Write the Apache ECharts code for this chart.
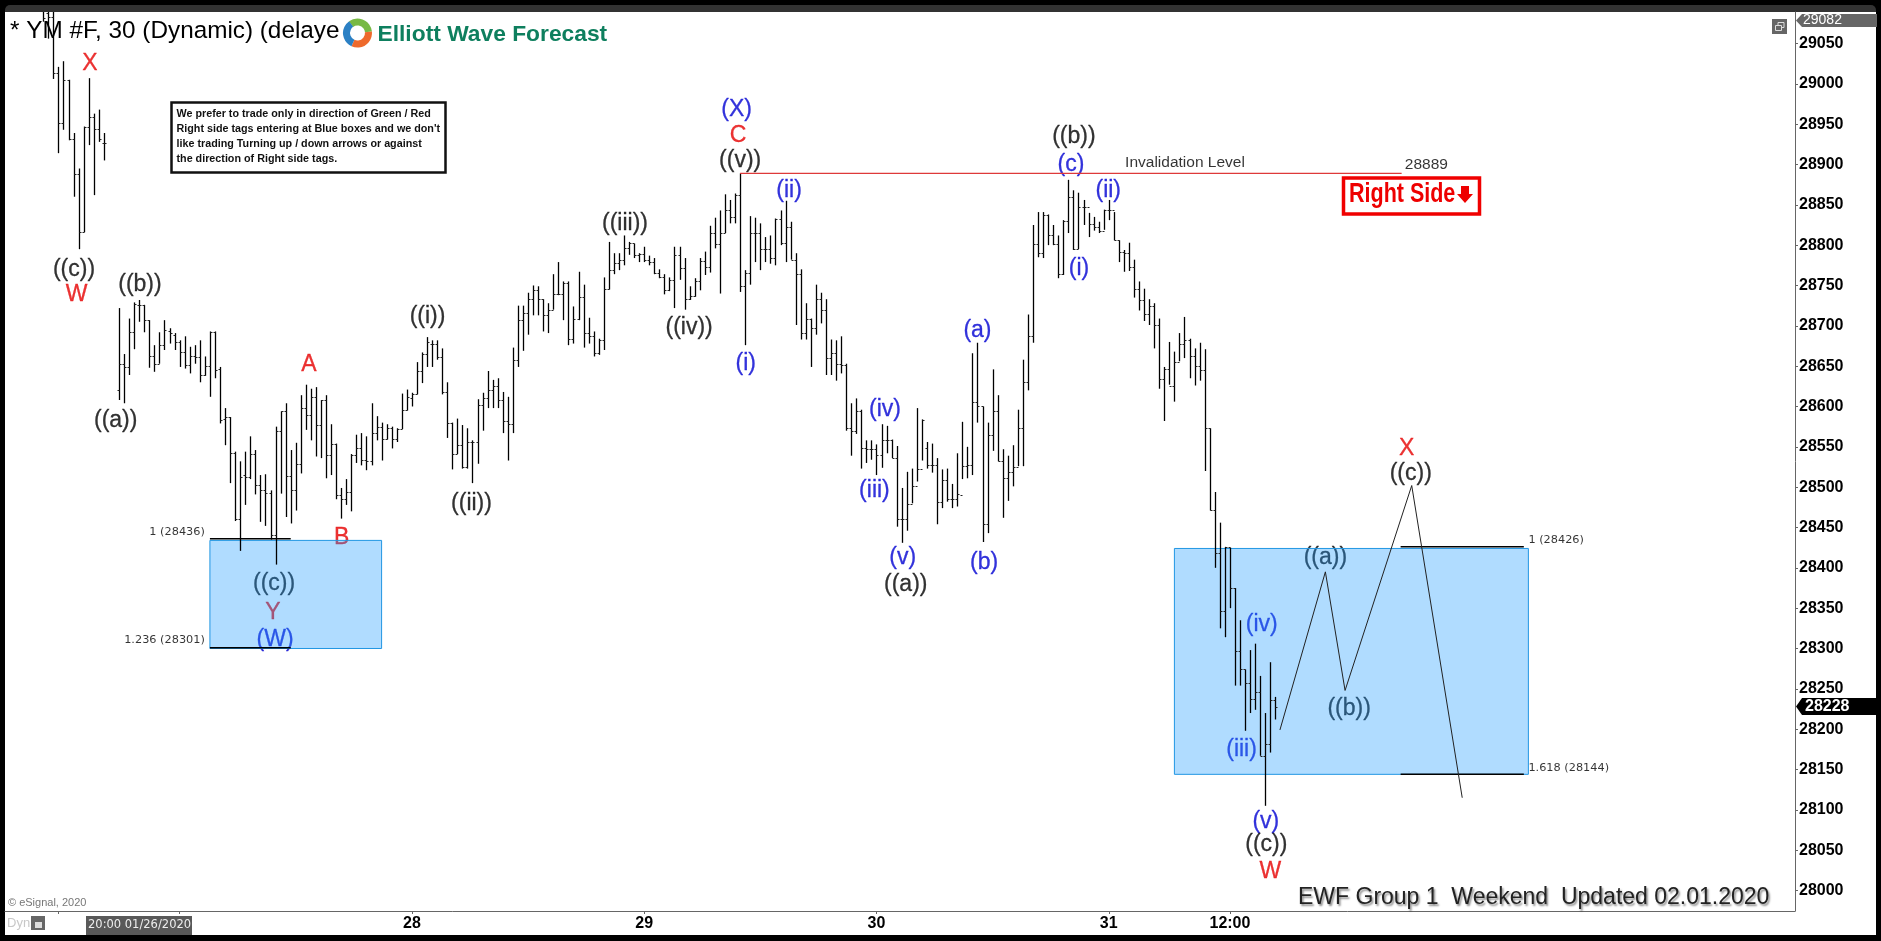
<!DOCTYPE html>
<html lang="en">
<head>
<meta charset="UTF-8">
<title>YM #F, 30</title>
<style>
    html, body { margin: 0; padding: 0; background: #000; }
    #chart { width: 1881px; height: 941px; }
</style>
<script src="https://cdn.jsdelivr.net/npm/echarts@6/dist/echarts.min.js"></script>
</head>
<body>
<div id="chart"></div>
<script>
// 30 minute bars, first bar is index 0
var highs = [
    29110,29105,29100,29021,29028,29005,28939,28895,28947,29007,
    28963,28968,28939,null,null,28722,28665,28709,28729,28732,
    28726,28707,28676,28692,28707,28697,28691,28682,28687,28674,
    28676,28682,28662,28693,28693,28649,28598,28587,28544,28532,
    28544,28563,28546,28515,28516,28496,28575,28594,28604,28546,
    28555,28614,28627,28622,28624,28608,28614,28578,28554,28499,
    28510,28541,28565,28567,28563,28604,28588,28580,28578,28575,
    28573,28616,28621,28617,28655,28667,28686,28682,28682,28672,
    28630,28580,28585,28577,28573,28558,28609,28617,28644,28633,
    28635,28618,28612,28673,28725,28725,28741,28750,28749,28733,
    28728,28764,28779,28755,28755,28724,28767,28751,28710,28693,
    28684,28760,28804,28790,28790,28812,28804,28802,28790,28798,
    28787,28784,28770,28764,28760,28798,28798,28784,28749,28759,
    28784,28792,28824,28834,28843,28863,28856,28864,28889,28769,
    28836,28834,28827,28810,28812,28833,28843,28855,28829,28790,
    28770,28728,28709,28751,28741,28733,28683,28682,28687,28653,
    28604,28610,28596,28558,28558,28553,28578,28576,28559,28551,
    28499,28519,28523,28598,28584,28556,28554,28536,28522,28523,
    28504,28542,28581,28550,28666,28679,28600,28580,28646,28614,
    28547,28539,28552,28596,28658,28714,28825,28841,28841,28838,
    28825,28812,28831,28881,28868,28865,28856,28840,28835,28829,
    28844,28856,28841,28806,28794,28803,28782,28755,28746,28733,
    28728,28709,28649,28680,28668,28691,28711,28684,28672,28679,
    28671,28573,28494,28456,28426,28425,28375,28335,28274,28298,
    28306,28266,28220,28283,28240
];
var lows = [
    29077,29056,29006,28914,28943,28930,28860,28795,28816,28924,
    28862,28928,28905,null,null,28608,28604,28639,28671,28705,
    28692,28648,28643,28653,28670,28678,28670,28649,28647,28641,
    28653,28630,28638,28612,28635,28579,28552,28505,28458,28421,
    28478,28510,28491,28457,28452,28435,28404,28492,28463,28455,
    28471,28517,28571,28558,28538,28536,28511,28515,28485,28461,
    28478,28470,28530,28527,28521,28527,28558,28533,28559,28548,
    28556,28572,28595,28600,28615,28629,28649,28649,28658,28615,
    28561,28522,28541,28523,28523,28505,28529,28570,28598,28598,
    28598,28567,28533,28567,28649,28669,28689,28713,28713,28693,
    28691,28720,28738,28707,28676,28678,28707,28673,28678,28662,
    28664,28670,28745,28764,28769,28775,28788,28784,28779,28779,
    28775,28764,28759,28739,28743,28722,28757,28720,28732,28736,
    28744,28763,28766,28796,28740,28815,28827,28827,28742,28676,
    28751,28779,28769,28779,28777,28775,28800,28779,28782,28701,
    28683,28683,28649,28689,28703,28639,28639,28632,28641,28570,
    28539,28566,28523,28530,28534,28515,28524,28542,28536,28451,
    28431,28446,28480,28507,28533,28523,28518,28454,28474,28482,
    28474,28476,28510,28511,28515,28580,28432,28443,28545,28532,
    28462,28483,28501,28526,28526,28620,28679,28785,28784,28800,
    28800,28759,28763,28815,28794,28795,28825,28810,28818,28815,
    28819,28831,28806,28779,28767,28768,28735,28719,28706,28701,
    28672,28622,28582,28627,28606,28656,28660,28635,28626,28632,
    28520,28471,28400,28325,28314,28350,28254,28254,28198,28220,
    28224,28167,28105,28171,28212
];
var opens = [
    29100,29088,29083,29014,28951,29005,28932,28888,28816,28946,
    28959,28944,28927,null,null,28621,28653,28649,28692,28726,
    28726,28707,28662,28653,28676,28693,28689,28680,28668,28651,
    28663,28661,28639,28650,28692,28646,28584,28587,28542,28461,
    28515,28513,28541,28503,28497,28493,28441,28570,28594,28514,
    28497,28529,28598,28589,28612,28577,28608,28540,28553,28490,
    28485,28494,28540,28548,28534,28532,28567,28574,28560,28573,
    28560,28572,28596,28611,28616,28644,28665,28678,28678,28661,
    28618,28580,28541,28552,28525,28556,28556,28602,28610,28620,
    28625,28608,28582,28578,28657,28707,28716,28733,28744,28733,
    28713,28720,28740,28739,28753,28684,28709,28736,28691,28687,
    28666,28682,28746,28769,28778,28781,28796,28803,28788,28789,
    28782,28779,28765,28760,28744,28757,28788,28772,28733,28737,
    28755,28780,28773,28815,28802,28815,28843,28835,28862,28749,
    28765,28815,28815,28795,28795,28784,28832,28803,28822,28782,
    28764,28691,28709,28697,28733,28719,28660,28666,28653,28651,
    28573,28569,28594,28548,28547,28547,28540,28558,28559,28536,
    28460,28460,28479,28501,28522,28549,28527,28527,28482,28509,
    28485,28485,28490,28526,28527,28606,28601,28454,28565,28595,
    28533,28511,28519,28525,28573,28630,28687,28801,28790,28837,
    28812,28801,28764,28830,28860,28795,28847,28847,28826,28822,
    28818,28844,28843,28806,28791,28790,28773,28746,28732,28715,
    28724,28701,28634,28647,28625,28655,28677,28683,28662,28650,
    28645,28573,28472,28418,28346,28426,28375,28297,28274,28257,
    28237,28246,28167,28182,28236
];
var closes = [
    29082,29083,29013,28951,29005,28932,28888,28816,28946,28959,
    28944,28932,28927,null,null,28653,28649,28692,28727,28726,
    28707,28662,28653,28676,28695,28691,28680,28668,28651,28663,
    28661,28639,28650,28692,28645,28583,28587,28542,28461,28513,
    28512,28541,28503,28497,28493,28441,28570,28594,28514,28497,
    28529,28598,28589,28612,28577,28608,28540,28553,28490,28485,
    28494,28540,28548,28534,28532,28567,28574,28560,28573,28560,
    28572,28596,28612,28616,28644,28665,28680,28678,28661,28618,
    28580,28541,28552,28525,28556,28556,28602,28610,28620,28625,
    28608,28582,28578,28657,28707,28716,28733,28744,28733,28713,
    28720,28740,28739,28753,28684,28709,28736,28691,28687,28666,
    28682,28746,28769,28778,28781,28796,28803,28788,28789,28782,
    28779,28765,28760,28744,28757,28788,28772,28733,28737,28755,
    28780,28773,28815,28802,28815,28843,28835,28862,28749,28765,
    28815,28815,28795,28795,28784,28832,28803,28822,28782,28764,
    28691,28709,28697,28733,28719,28660,28666,28653,28651,28573,
    28569,28594,28548,28547,28547,28540,28558,28559,28536,28460,
    28460,28479,28501,28522,28583,28527,28527,28482,28509,28485,
    28485,28492,28526,28527,28606,28601,28454,28565,28595,28533,
    28511,28519,28525,28573,28630,28687,28801,28790,28837,28812,
    28801,28764,28830,28860,28795,28847,28847,28826,28822,28818,
    28844,28843,28806,28791,28790,28773,28746,28732,28715,28724,
    28701,28634,28647,28625,28655,28677,28683,28662,28650,28645,
    28573,28472,28418,28346,28426,28375,28297,28274,28257,28237,
    28246,28167,28182,28236,28227
];

var yTicks = [28000,28050,28100,28150,28200,28250,28300,28350,28400,28450,28500,28550,28600,28650,
    28700,28750,28800,28850,28900,28950,29000,29050];
var xTicks = [3, 27, 73, 119, 165, 211, 235];
var xTickLabels = ["", "", "28", "29", "30", "31", "12:00"];

// [text, bar index, price, colour]
var waveLabels = [
    ["X", 9.25, 29027, "red"], ["((c))", 6.08, 28771, "black"], ["W", 6.61, 28741, "red"],
    ["((b))", 19.15, 28753, "black"], ["((a))", 14.34, 28584, "black"], ["A", 52.6, 28654, "red"],
    ["((i))", 76.1, 28713, "black"], ["B", 59.1, 28439, "red"], ["((c))", 45.7, 28382, "black"],
    ["Y", 45.5, 28346, "red"], ["(W)", 45.9, 28313, "blue"], ["((ii))", 84.8, 28482, "black"],
    ["((iii))", 115.2, 28828, "black"], ["((iv))", 127.9, 28699, "black"], ["(X)", 137.3, 28970, "blue"],
    ["C", 137.6, 28937, "red"], ["((v))", 138, 28907, "black"], ["(ii)", 147.7, 28870, "blue"],
    ["(i)", 139.1, 28655, "blue"], ["(iv)", 166.7, 28598, "blue"], ["(iii)", 164.6, 28498, "blue"],
    ["(v)", 170.2, 28414, "blue"], ["((a))", 170.8, 28381, "black"], ["(b)", 186.3, 28408, "blue"],
    ["(a)", 185, 28696, "blue"], ["((b))", 204.1, 28936, "black"], ["(c)", 203.5, 28902, "blue"],
    ["(ii)", 210.9, 28870, "blue"], ["(i)", 205.1, 28773, "blue"], ["X", 270, 28550, "red"],
    ["((c))", 270.8, 28519, "black"], ["((a))", 253.9, 28415, "black"], ["((b))", 258.6, 28227, "black"],
    ["(iv)", 241.3, 28331, "blue"], ["(iii)", 237.3, 28177, "blue"], ["(v)", 242.1, 28087, "blue"],
    ["((c))", 242.2, 28059, "black"], ["W", 243, 28025, "red"]
];
// [text, bar index, price, align]
var fibLabels = [
    ["1 (28436)", 32, 28444, "right"], ["1.236 (28301)", 32, 28310, "right"],
    ["1 (28426)", 294.1, 28434, "left"], ["1.618 (28144)", 294.1, 28152, "left"]
];
// [first bar, last bar, top price, bottom price]
var blueBoxes = [[33, 67, 28434, 28300], [224, 294.1, 28424, 28144]];
var fibLines = [
    [[33, 28436], [49, 28436]], [[33, 28301], [49, 28301]],
    [[268.8, 28426], [293.2, 28426]], [[268.8, 28144], [293.2, 28144]]
];
var invalidationLine = [[138, 28889], [269, 28889]];
var forecastPath = [[244.9, 28199], [253.9, 28395], [257.8, 28248], [271, 28502], [281, 28115]];
var priceTags = [[29082, "#666666", "normal", 14], [28228, "#000000", "bold", 16]];

var xMin = -7.58, xMax = 346.9;
var yMin = 27974.6, yMax = 29089;
var sans = '"Liberation Sans", Arial, sans-serif';
var labelColors = { red: "#e60000", blue: "#0000d2", black: "#000000" };

var bars = [];
highs.forEach(function (h, i) {
    if (h !== null) bars.push([i, h, lows[i], opens[i], closes[i]]);
});

function renderBar(params, api) {
    var i = api.value(0);
    var hi = api.coord([i, api.value(1)]);
    var lo = api.coord([i, api.value(2)]);
    var op = api.coord([i, api.value(3)]);
    var cl = api.coord([i, api.value(4)]);
    var x = Math.round(hi[0]) + 0.5;
    var stem = { stroke: "#000", lineWidth: 1.3 };
    var st = { stroke: "#222", lineWidth: 1 };
    return {
        type: "group",
        children: [
            { type: "line", shape: { x1: x, y1: hi[1], x2: x, y2: lo[1] }, style: stem },
            { type: "line", shape: { x1: x - 2, y1: Math.round(op[1]) + 0.5, x2: x, y2: Math.round(op[1]) + 0.5 }, style: st },
            { type: "line", shape: { x1: x, y1: Math.round(cl[1]) + 0.5, x2: x + 2, y2: Math.round(cl[1]) + 0.5 }, style: st }
        ]
    };
}

function renderBox(params, api) {
    var a = api.coord([api.value(0), api.value(2)]);
    var b = api.coord([api.value(1), api.value(3)]);
    return {
        type: "rect",
        shape: { x: a[0], y: a[1], width: b[0] - a[0], height: b[1] - a[1] },
        // see-through so the labels below it tint the way they do in the original
        style: { fill: "rgba(29,155,255,0.35)", stroke: "#2196e3", lineWidth: 1 }
    };
}

function renderTag(params, api) {
    var y = Math.max(api.coord([xMax, api.value(0)])[1], 20.5);
    var t = priceTags[params.dataIndex];
    var h = t[3] === 14 ? 6.5 : 8.5;
    var x0 = 1796;
    return {
        type: "group",
        children: [
            { type: "polygon", shape: { points: [[x0, y], [x0 + 6, y - h], [1877, y - h], [1877, y + h], [x0 + 6, y + h]] }, style: { fill: t[1] } },
            { type: "text", style: { x: t[3] === 14 ? 1803 : 1805, y: y, text: String(t[0]), fill: "#fff",
                font: t[2] + " " + t[3] + "px " + sans, textAlign: "left", textVerticalAlign: "middle" } }
        ]
    };
}

var chart = echarts.init(document.getElementById("chart"));
chart.setOption({
    animation: false,
    backgroundColor: "#000",
    grid: { left: 5, top: 12, width: 1790, height: 899 },
    xAxis: {
        type: "value", min: xMin, max: xMax, splitLine: { show: false },
        axisLine: { onZero: false, lineStyle: { color: "#666", width: 1 } },
        axisTick: { length: 3, lineStyle: { color: "#666" }, customValues: xTicks },
        axisLabel: {
            customValues: xTicks, margin: 5, color: "#000",
            fontFamily: sans, fontWeight: "bold", fontSize: 16,
            formatter: function (v) { return xTickLabels[xTicks.indexOf(v)] || ""; }
        }
    },
    yAxis: {
        type: "value", position: "right", min: yMin, max: yMax, splitLine: { show: false },
        axisLine: { show: true, onZero: false, lineStyle: { color: "#666", width: 1 } },
        axisTick: { show: true, length: 3, lineStyle: { color: "#666" }, customValues: yTicks },
        axisLabel: {
            customValues: yTicks, margin: 4, color: "#000", fontFamily: sans, fontWeight: "bold", fontSize: 16,
            formatter: function (v) { return String(v); }
        }
    },
    series: [
        {
            type: "scatter", z: 1, symbolSize: 0, silent: true, clip: false,
            data: waveLabels.map(function (d) {
                return {
                    value: [d[1], d[2]],
                    label: { show: true, position: "inside", offset: [0, 1.5], formatter: d[0], color: labelColors[d[3]],
                        fontFamily: sans, fontSize: 23, textBorderColor: labelColors[d[3]], textBorderWidth: 0.3 }
                };
            })
        },
        {
            type: "scatter", z: 1, symbolSize: 0, silent: true, clip: false,
            data: fibLabels.map(function (d) {
                return {
                    value: [d[1], d[2]],
                    label: { show: true, position: "inside", align: d[3], formatter: d[0], color: "#000", fontFamily: "DejaVu Sans", fontSize: 11.3 }
                };
            })
        },
        {
            type: "scatter", z: 5, symbolSize: 0, silent: true, clip: false,
            data: [
                { value: [226.1, 28903], label: { show: true, position: "inside", offset: [0, 1], formatter: "Invalidation Level", color: "#000", fontFamily: sans, fontSize: 15.5 } },
                { value: [273.9, 28901], label: { show: true, position: "inside", offset: [0, 1], formatter: "28889", color: "#000", fontFamily: sans, fontSize: 15.5 } }
            ]
        },
        { type: "custom", z: 2, silent: true, renderItem: renderBox, encode: { x: [0, 1], y: [2, 3] }, data: blueBoxes },
        { type: "custom", z: 3, silent: true, clip: true, renderItem: renderBar, encode: { x: 0, y: [1, 2, 3, 4] }, data: bars },
        { type: "custom", z: 6, silent: true, clip: false, renderItem: renderTag, encode: { y: 0 }, data: priceTags.map(function (t) { return [t[0]]; }) }
    ].concat(fibLines.map(function (seg) {
        return { type: "line", z: 3, silent: true, symbol: "none", data: seg, lineStyle: { color: "#000", width: 1.5 } };
    })).concat([
        { type: "line", z: 3, silent: true, symbol: "none", data: invalidationLine, lineStyle: { color: "#de3a3a", width: 1.2 } },
        { type: "line", z: 3, silent: true, symbol: "none", data: forecastPath, lineStyle: { color: "#222", width: 1 } }
    ]),
    graphic: [
        // window frame
        { type: "rect", z: -5, shape: { x: 5, y: 5, width: 1871, height: 20, r: [5, 5, 0, 0] }, style: { fill: "#333" } },
        { type: "rect", z: -4, shape: { x: 5, y: 12, width: 1871, height: 923 }, style: { fill: "#fff" } },

        { type: "text", z: 10, style: { x: 10, y: 31, text: "* YM #F, 30 (Dynamic) (delaye", font: "24.3px " + sans, fill: "#000", textVerticalAlign: "middle" } },

        // logo
        { type: "circle", z: 11, shape: { cx: 357.5, cy: 33, r: 15 }, style: { fill: "#fff" } },
        { type: "arc", z: 12, shape: { cx: 357.5, cy: 33, r: 11, startAngle: -2.2, endAngle: -0.1 }, style: { stroke: "#78b944", fill: null, lineWidth: 7 } },
        { type: "arc", z: 12, shape: { cx: 357.5, cy: 33, r: 11, startAngle: -0.1, endAngle: 2.0 }, style: { stroke: "#ee6a2c", fill: null, lineWidth: 7 } },
        { type: "arc", z: 12, shape: { cx: 357.5, cy: 33, r: 11, startAngle: 2.0, endAngle: 4.1 }, style: { stroke: "#2b80c4", fill: null, lineWidth: 7 } },
        { type: "text", z: 11, style: { x: 377.5, y: 34.5, text: "Elliott Wave Forecast", font: "bold 22.8px " + sans, fill: "#0e7f5e", textVerticalAlign: "middle" } },

        // note box
        { type: "rect", z: 10, shape: { x: 171.5, y: 102.5, width: 274, height: 70 }, style: { fill: "#fff", stroke: "#111", lineWidth: 2.5 } },
        { type: "text", z: 11, style: { x: 176.5, y: 114.5, text: "We prefer to trade only in direction of Green / Red", font: "bold 10.75px " + sans, fill: "#111", textVerticalAlign: "middle" } },
        { type: "text", z: 11, style: { x: 176.5, y: 129.5, text: "Right side tags entering at Blue boxes and we don't", font: "bold 10.75px " + sans, fill: "#111", textVerticalAlign: "middle" } },
        { type: "text", z: 11, style: { x: 176.5, y: 144.5, text: "like trading Turning up / down arrows or against", font: "bold 10.75px " + sans, fill: "#111", textVerticalAlign: "middle" } },
        { type: "text", z: 11, style: { x: 176.5, y: 159.5, text: "the direction of Right side tags.", font: "bold 10.75px " + sans, fill: "#111", textVerticalAlign: "middle" } },

        // right side tag
        { type: "rect", z: 10, shape: { x: 1343.5, y: 178, width: 136, height: 36 }, style: { fill: "#fff", stroke: "#f00000", lineWidth: 3.5 } },
        { type: "text", z: 11, scaleY: 1.25, originX: 1349, originY: 195, style: { x: 1349, y: 195, text: "Right Side", font: "bold 21.5px " + sans, fill: "#ee0000", textVerticalAlign: "middle" } },
        { type: "polygon", z: 11, shape: { points: [[1461, 186], [1469, 186], [1469, 194], [1473, 194], [1465, 203], [1457, 194], [1461, 194]] }, style: { fill: "#ee0000" } },

        // chart furniture
        { type: "text", z: 10, style: { x: 1298, y: 898, text: "EWF Group 1  Weekend  Updated 02.01.2020", font: "23px " + sans, fill: "#222",
            textVerticalAlign: "middle", textShadowColor: "rgba(0,0,0,0.45)", textShadowBlur: 2, textShadowOffsetX: 1.5, textShadowOffsetY: 1.5 } },
        { type: "text", z: 10, style: { x: 8, y: 902.5, text: "© eSignal, 2020", font: "11px " + sans, fill: "#777", textVerticalAlign: "middle" } },
        { type: "text", z: 10, style: { x: 7, y: 923, text: "Dyn", font: "13px " + sans, fill: "#c8c8c8", textVerticalAlign: "middle" } },
        { type: "rect", z: 10, shape: { x: 31, y: 916, width: 14, height: 14 }, style: { fill: "#666" } },
        { type: "rect", z: 11, shape: { x: 35, y: 922, width: 7, height: 6 }, style: { fill: "#ddd" } },
        { type: "rect", z: 10, shape: { x: 86, y: 916, width: 106, height: 19 }, style: { fill: "#595959" } },
        { type: "text", z: 11, style: { x: 88, y: 925.5, text: "20:00 01/26/2020", font: "11.5px DejaVu Sans", fill: "#eee", textVerticalAlign: "middle" } },
        { type: "rect", z: 10, shape: { x: 1772, y: 19, width: 15, height: 15 }, style: { fill: "#666" } },
        { type: "rect", z: 11, shape: { x: 1778, y: 22.5, width: 6, height: 5 }, style: { fill: "none", stroke: "#ddd", lineWidth: 1 } },
        { type: "rect", z: 11, shape: { x: 1775.5, y: 25.5, width: 6, height: 5 }, style: { fill: "#666", stroke: "#ddd", lineWidth: 1 } }
    ]
});
</script>
</body>
</html>
